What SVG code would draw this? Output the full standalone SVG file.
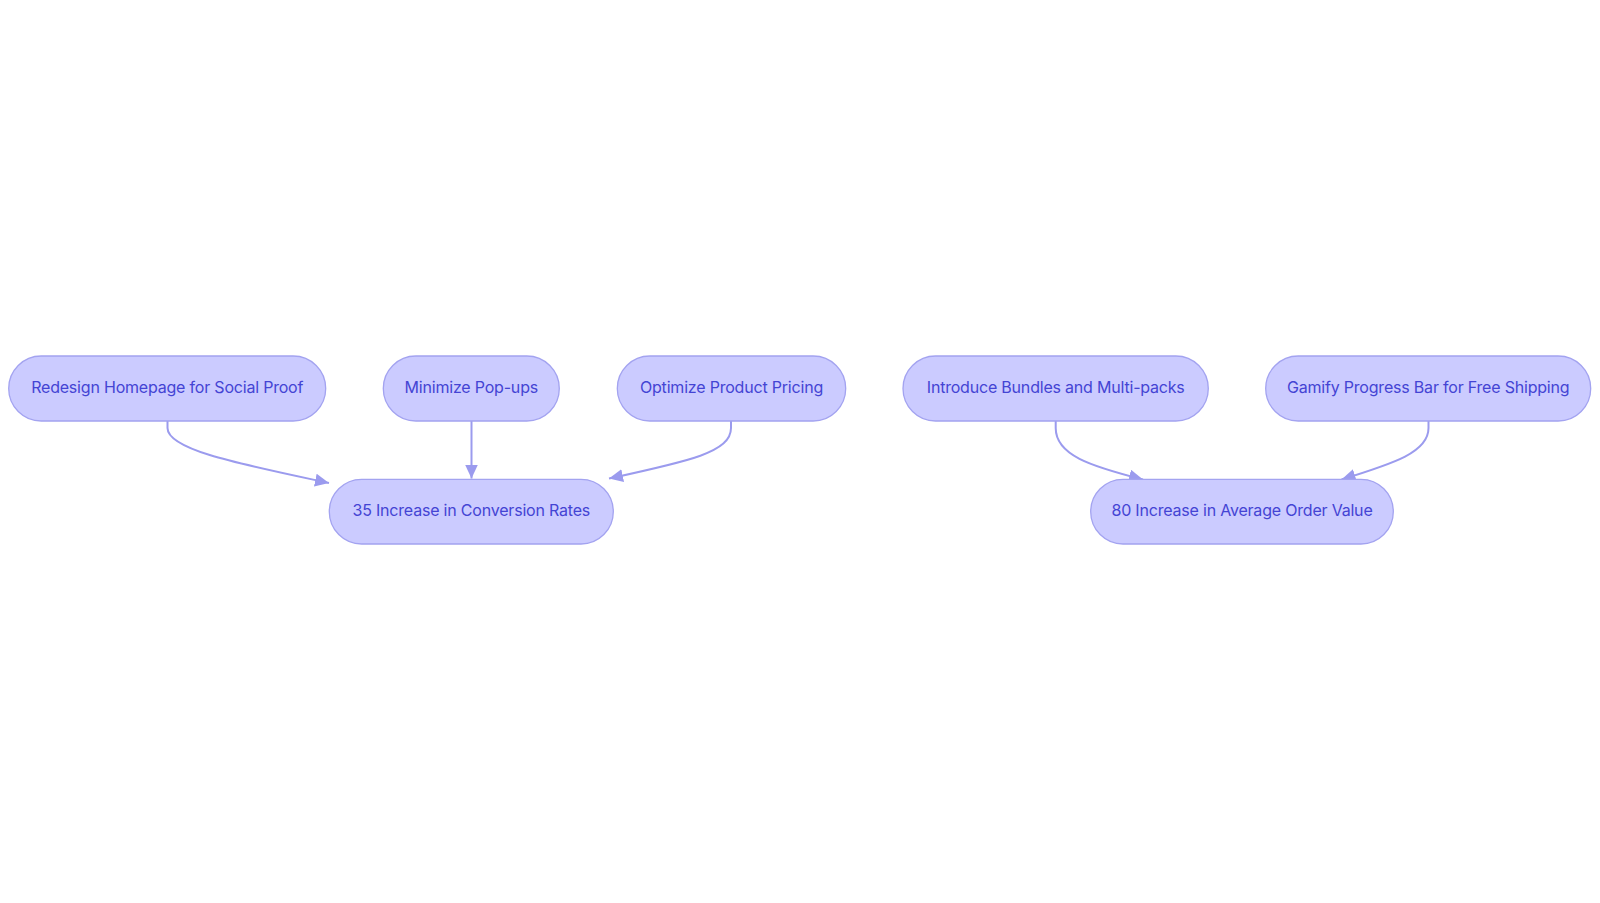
<svg xmlns="http://www.w3.org/2000/svg" width="1600" height="903" viewBox="0 0 1600 903">
<style>
.node rect{fill:#CBCBFF;stroke:#A3A3F0;stroke-width:1.3}
.node text{font-family:Inter,"Noto Sans",sans-serif;font-size:16px;fill:#4444D4;text-anchor:middle;dominant-baseline:central;letter-spacing:-0.2px}
.edge{fill:none;stroke:#9B9BEE;stroke-width:2}
</style>
<defs>
<marker id="a" viewBox="0 0 14 13" refX="14" refY="6.5" markerWidth="14" markerHeight="13" markerUnits="userSpaceOnUse" orient="auto">
<path d="M0,0 L14,6.5 L0,13 Z" fill="#9B9BEE"/>
</marker>
</defs>
<rect width="1600" height="903" fill="#FFFFFF"/>
<g id="connectors">
<path class="edge" d="M167.5,421 V428 C167.5,450 240,464 329,483" marker-end="url(#a)"/>
<path class="edge" d="M471.5,421 V478.5" marker-end="url(#a)"/>
<path class="edge" d="M731,421 V428 C731,452 690,461 609,478.5" marker-end="url(#a)"/>
<path class="edge" d="M1055.7,421 V428 C1055.7,455 1090,466 1143,479.5" marker-end="url(#a)"/>
<path class="edge" d="M1428.5,421 V428 C1428.5,452 1395,463 1341.5,479.5" marker-end="url(#a)"/>
</g>
<g id="n1" class="node"><rect x="8.7" y="356" width="317" height="65" rx="32.5"/><text x="167.2" y="387">Redesign Homepage for Social Proof</text></g>
<g id="n2" class="node"><rect x="383.3" y="356" width="176" height="65" rx="32.5"/><text x="471.3" y="387">Minimize Pop-ups</text></g>
<g id="n3" class="node"><rect x="617.3" y="356" width="228.4" height="65" rx="32.5"/><text x="731.5" y="387">Optimize Product Pricing</text></g>
<g id="n4" class="node"><rect x="903" y="356" width="305.3" height="65" rx="32.5"/><text x="1055.7" y="387">Introduce Bundles and Multi-packs</text></g>
<g id="n5" class="node"><rect x="1265.7" y="356" width="325" height="65" rx="32.5"/><text x="1428.2" y="387">Gamify Progress Bar for Free Shipping</text></g>
<g id="n6" class="node"><rect x="329.3" y="479.3" width="284" height="64.7" rx="32.3"/><text x="471.3" y="510.2">35 Increase in Conversion Rates</text></g>
<g id="n7" class="node"><rect x="1090.7" y="479.3" width="302.6" height="64.7" rx="32.3"/><text x="1242" y="510.2">80 Increase in Average Order Value</text></g>
</svg>
